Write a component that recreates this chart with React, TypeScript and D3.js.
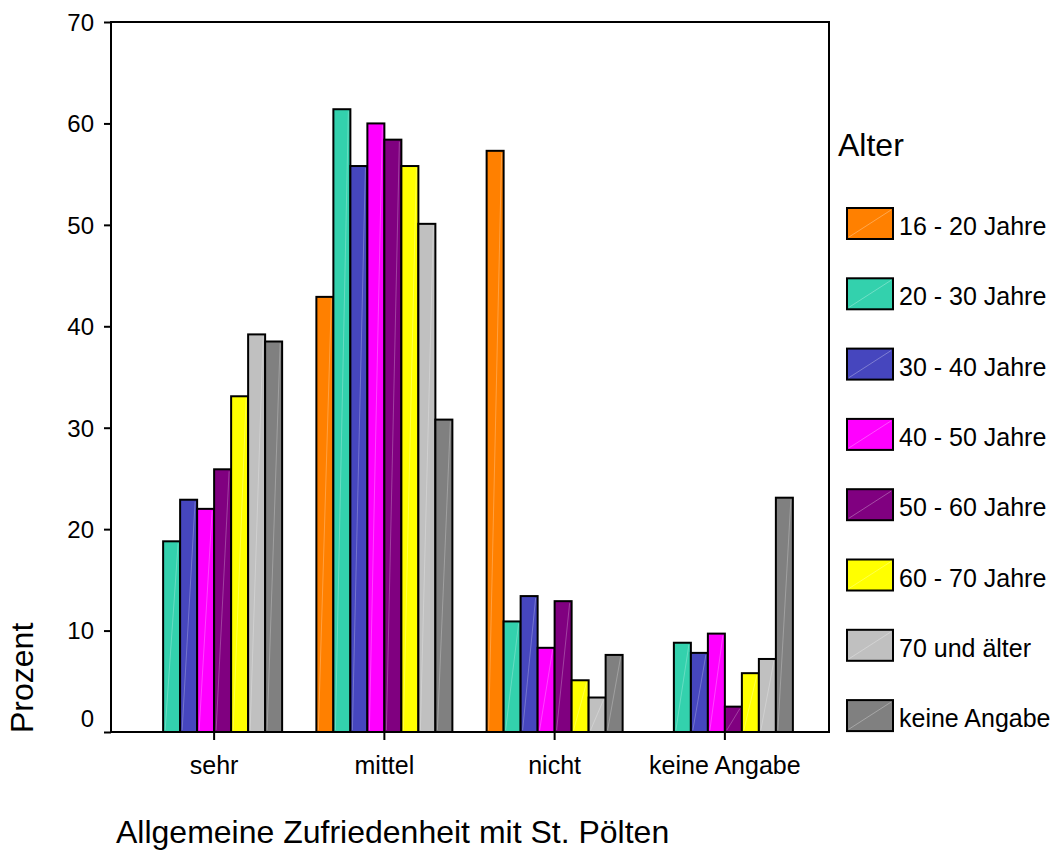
import React, { useEffect, useRef } from 'react';
import * as d3 from 'd3';

// categories on the x axis
const CATEGORIES = ['sehr', 'mittel', 'nicht', 'keine Angabe'];

// age groups (legend) and their colours
const AGE_GROUPS = [
  '16 - 20 Jahre',
  '20 - 30 Jahre',
  '30 - 40 Jahre',
  '40 - 50 Jahre',
  '50 - 60 Jahre',
  '60 - 70 Jahre',
  '70 und älter',
  'keine Angabe',
];
const COLORS = ['#FF8000', '#33D1AD', '#4646BE', '#FF00FF', '#800080', '#FFFF00', '#C0C0C0', '#808080'];

// percent per category (sehr, mittel, nicht, keine Angabe)
const AGE_16_20 = [0, 42.9, 57.3, 0];
const AGE_20_30 = [18.8, 61.4, 10.9, 8.8];
const AGE_30_40 = [22.9, 55.8, 13.4, 7.8];
const AGE_40_50 = [22.0, 60.0, 8.3, 9.7];
const AGE_50_60 = [25.9, 58.4, 12.9, 2.5];
const AGE_60_70 = [33.1, 55.8, 5.1, 5.8];
const AGE_70_PLUS = [39.2, 50.1, 3.4, 7.2];
const AGE_NA = [38.5, 30.8, 7.6, 23.1];

const SERIES = [AGE_16_20, AGE_20_30, AGE_30_40, AGE_40_50, AGE_50_60, AGE_60_70, AGE_70_PLUS, AGE_NA];

const Y_TICKS = [0, 10, 20, 30, 40, 50, 60, 70];

const FONT = '"Liberation Sans", Arial, Helvetica, sans-serif';

const W = 1060;
const H = 855;
const plot = { left: 111, right: 829, top: 22, bottom: 732 };

const App: React.FC = () => {
  const yAxisRef = useRef<SVGGElement>(null);
  const xAxisRef = useRef<SVGGElement>(null);

  const x0 = d3.scaleBand<string>().domain(CATEGORIES).range([129, 810]).padding(0);
  const groupW = 136;
  const groupOff = (x0.bandwidth() - groupW) / 2;
  const x1 = d3.scaleBand<string>().domain(AGE_GROUPS).range([0, groupW]).padding(0);
  const y = d3.scaleLinear().domain([0, 70]).range([plot.bottom, plot.top]);

  useEffect(() => {
    if (!yAxisRef.current || !xAxisRef.current) return;

    const yAxis = d3.axisLeft(y).tickValues(Y_TICKS).tickSize(7).tickPadding(10);
    const gy = d3.select(yAxisRef.current);
    gy.selectAll('*').remove();
    gy.call(yAxis);
    gy.select('.domain').remove();
    gy.selectAll('.tick line').attr('stroke', '#000').attr('stroke-width', 2);
    gy.selectAll('.tick text')
      .attr('font-family', FONT)
      .attr('font-size', 24)
      .attr('fill', '#000')
      .attr('dy', (d: any) => (d === 0 ? '-0.25em' : '0.35em'));

    const xAxis = d3.axisBottom(x0).tickSize(8).tickPadding(10);
    const gx = d3.select(xAxisRef.current);
    gx.selectAll('*').remove();
    gx.call(xAxis);
    gx.select('.domain').remove();
    gx.selectAll('.tick line').attr('stroke', '#000').attr('stroke-width', 2);
    gx.selectAll('.tick text')
      .attr('font-family', FONT)
      .attr('font-size', 25)
      .attr('fill', '#000')
      .attr('dy', '0.95em');
  }, []);

  return (
    <svg width={W} height={H} style={{ position: 'absolute', left: 0, top: 0, background: '#fff' }}>
      <rect x={0} y={0} width={W} height={H} fill="#fff" />

      {/* bars */}
      {SERIES.map((vals, si) => (
        <g key={AGE_GROUPS[si]}>
          {vals.map((v, ci) => {
            const bx = (x0(CATEGORIES[ci]) as number) + groupOff + (x1(AGE_GROUPS[si]) as number);
            const bw = x1.bandwidth();
            const by = y(v);
            const bh = y(0) - by;
            return (
              <g key={ci}>
                <rect x={bx} y={by} width={bw} height={bh} fill={COLORS[si]} stroke="#000" strokeWidth={2} />
                {bh > 4 && (
                  <line x1={bx + 2} y1={y(0) - 2} x2={bx + bw - 2} y2={by + 2} stroke="#fff" strokeOpacity={0.25} strokeWidth={1} />
                )}
              </g>
            );
          })}
        </g>
      ))}

      {/* frame */}
      <rect
        x={plot.left}
        y={plot.top}
        width={plot.right - plot.left}
        height={plot.bottom - plot.top}
        fill="none"
        stroke="#000"
        strokeWidth={2}
      />

      <g ref={yAxisRef} transform={`translate(${plot.left},0)`} />
      <g ref={xAxisRef} transform={`translate(0,${plot.bottom})`} />

      {/* axis titles */}
      <text
        transform={`translate(33,733) rotate(-90)`}
        fontFamily={FONT}
        fontSize={32}
        fill="#000"
      >
        Prozent
      </text>
      <text x={116} y={843} fontFamily={FONT} fontSize={32} fill="#000">
        Allgemeine Zufriedenheit mit St. Pölten
      </text>

      {/* legend */}
      <text x={838} y={156} fontFamily={FONT} fontSize={32} fill="#000">
        Alter
      </text>
      {AGE_GROUPS.map((name, i) => {
        const ly = 208 + i * 70.3;
        return (
          <g key={name}>
            <rect x={847} y={ly} width={46} height={31} fill={COLORS[i]} stroke="#000" strokeWidth={2} />
            <line x1={849} y1={ly + 29} x2={891} y2={ly + 2} stroke="#fff" strokeOpacity={0.3} strokeWidth={1} />
            <text x={899} y={ly + 27} fontFamily={FONT} fontSize={25} fill="#000">
              {name}
            </text>
          </g>
        );
      })}
    </svg>
  );
};

export default App;
